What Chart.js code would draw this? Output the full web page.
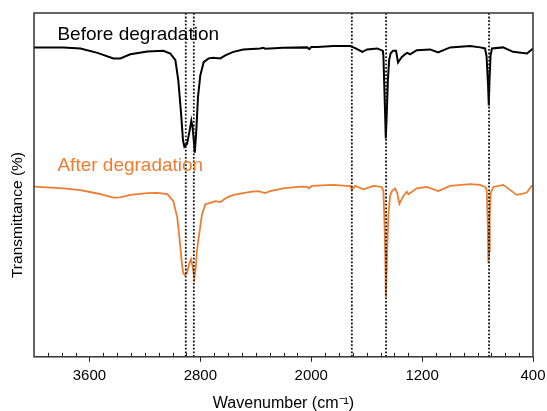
<!DOCTYPE html>
<html lang="en">
<head>
    <meta charset="UTF-8">
    <title>FTIR - before / after degradation</title>
    <script src="https://cdn.jsdelivr.net/npm/chart.js"></script>
    <style>
        body { margin: 0; background: #fff; }
    </style>
</head>
<body>
    <canvas id="ftirChart" width="547" height="411"></canvas>

    <script>
        // wavenumber (cm-1) / transmittance (arbitrary, offset spectra)
        const wnBefore = [4000, 3787, 3665, 3542, 3427, 3377, 3305, 3182, 3067, 3016, 2980, 2959, 2939, 2925, 2915, 2896, 2877, 2865, 2856, 2845, 2840, 2829, 2817, 2800, 2776, 2740, 2706, 2656, 2620, 2562, 2490, 2368, 2346, 2332, 2202, 2029, 2014, 2000, 1957, 1841, 1719, 1683, 1631, 1596, 1524, 1483, 1479, 1474, 1467, 1462, 1455, 1447, 1438, 1427, 1409, 1388, 1374, 1346, 1323, 1308, 1287, 1238, 1142, 1085, 998, 854, 782, 746, 735, 724, 719, 714, 706, 696, 616, 544, 443, 400];
        const tBefore = [90.0, 90.0, 89.7, 88.4, 86.8, 86.8, 88.0, 88.8, 89.0, 88.2, 86.3, 80.4, 70.8, 62.9, 61.1, 61.9, 65.8, 68.7, 66.8, 62.0, 59.4, 65.8, 75.5, 81.9, 85.7, 86.8, 87.0, 86.8, 87.7, 88.7, 89.4, 89.7, 89.9, 89.6, 89.9, 90.0, 89.5, 90.1, 90.1, 90.4, 90.4, 89.8, 88.7, 89.4, 89.7, 89.0, 87.2, 80.4, 70.8, 63.5, 70.8, 80.4, 86.3, 88.3, 89.0, 89.0, 85.6, 87.2, 88.0, 88.4, 88.0, 89.2, 89.4, 88.5, 90.0, 90.4, 90.0, 89.7, 87.4, 78.9, 73.1, 80.4, 87.7, 89.7, 90.0, 88.7, 88.2, 89.7];

        const wnAfter = [4000, 3787, 3665, 3542, 3427, 3377, 3305, 3182, 3110, 3038, 2995, 2966, 2948, 2933, 2923, 2912, 2897, 2879, 2867, 2856, 2843, 2832, 2825, 2812, 2788, 2764, 2728, 2692, 2656, 2608, 2560, 2440, 2382, 2332, 2296, 2202, 2079, 2029, 2018, 1995, 1841, 1743, 1719, 1707, 1683, 1623, 1551, 1491, 1479, 1472, 1465, 1462, 1456, 1450, 1443, 1431, 1418, 1395, 1380, 1364, 1335, 1310, 1299, 1238, 1166, 1083, 998, 854, 782, 746, 734, 727, 722, 717, 712, 705, 686, 614, 518, 446, 410, 400];
        const tAfter = [49.5, 49.0, 48.5, 47.5, 46.3, 46.4, 47.1, 47.6, 47.7, 47.3, 45.3, 40.4, 33.6, 27.2, 24.3, 23.8, 24.3, 27.2, 28.4, 26.3, 22.9, 26.3, 30.7, 34.6, 41.4, 44.4, 44.8, 45.3, 45.0, 46.3, 47.1, 48.0, 48.2, 47.6, 48.2, 49.0, 49.5, 49.4, 49.0, 49.7, 50.0, 49.7, 49.7, 48.5, 49.7, 48.7, 49.7, 49.4, 48.2, 39.5, 27.8, 17.3, 24.9, 33.6, 41.5, 46.8, 48.2, 49.0, 47.7, 44.5, 46.8, 48.0, 47.3, 49.0, 49.4, 48.2, 49.7, 50.2, 50.0, 49.4, 48.7, 39.5, 27.2, 30.7, 40.9, 47.7, 49.4, 50.0, 47.1, 47.7, 49.7, 49.7];

        // marked bands (dotted guides)
        const peakLines = [2905, 2847, 1707, 1460, 717];

        const xTickValues = [3600, 2800, 2000, 1200, 400];
        const seriesNames = ['Before degradation', 'After degradation'];
        const seriesColors = ['#000000', '#ED7D31'];

        const toPoints = (xs, ys) => xs.map((x, i) => ({ x: x, y: ys[i] }));

        const guideSets = peakLines.map(wn => ({
            label: 'guide ' + wn,
            data: [{ x: wn, y: 0 }, { x: wn, y: 100 }],
            borderColor: '#111',
            borderWidth: 1.8,
            borderDash: [1.8, 1.8],
            pointRadius: 0,
            order: 0
        }));

        const fontFamily = '"Liberation Sans", Arial, sans-serif';

        // frame, inward minor ticks, curve labels, y title
        const decorPlugin = {
            id: 'decor',
            afterDraw(chart) {
                const ctx = chart.ctx;
                const area = chart.chartArea;
                const xs = chart.scales.x;
                const ys = chart.scales.y;
                ctx.save();

                ctx.strokeStyle = '#222';
                ctx.lineWidth = 1;
                for (let v = 500; v < 4000; v += 100) {
                    if (xTickValues.includes(v)) continue;
                    const px = Math.round(xs.getPixelForValue(v)) + 0.5;
                    ctx.beginPath();
                    ctx.moveTo(px, area.bottom);
                    ctx.lineTo(px, area.bottom - 4);
                    ctx.stroke();
                }

                ctx.lineWidth = 1.5;
                ctx.strokeStyle = '#333';
                ctx.strokeRect(area.left, area.top, area.right - area.left, area.bottom - area.top);

                ctx.font = '19px ' + fontFamily;
                ctx.textBaseline = 'alphabetic';
                ctx.textAlign = 'left';
                ctx.fillStyle = seriesColors[0];
                ctx.fillText(seriesNames[0], xs.getPixelForValue(3831), ys.getPixelForValue(92.1));
                ctx.fillStyle = seriesColors[1];
                ctx.fillText(seriesNames[1], xs.getPixelForValue(3831), ys.getPixelForValue(54.1));

                ctx.translate(18, 215);
                ctx.rotate(-Math.PI / 2);
                ctx.textAlign = 'center';
                ctx.textBaseline = 'middle';
                ctx.fillStyle = '#000';
                ctx.font = '15.5px ' + fontFamily;
                ctx.fillText('Transmittance (%)', 0, 0);
                ctx.restore();
            }
        };

        new Chart(document.getElementById('ftirChart'), {
            type: 'line',
            data: {
                datasets: [
                    {
                        label: seriesNames[0],
                        data: toPoints(wnBefore, tBefore),
                        borderColor: seriesColors[0],
                        borderWidth: 2,
                        pointRadius: 0,
                        tension: 0,
                        order: 1
                    },
                    {
                        label: seriesNames[1],
                        data: toPoints(wnAfter, tAfter),
                        borderColor: seriesColors[1],
                        borderWidth: 1.8,
                        pointRadius: 0,
                        tension: 0,
                        order: 1
                    },
                    ...guideSets
                ]
            },
            options: {
                responsive: false,
                animation: false,
                layout: {
                    padding: { left: 34, top: 13, right: 14, bottom: -2 }
                },
                plugins: {
                    legend: { display: false },
                    tooltip: { enabled: false }
                },
                scales: {
                    x: {
                        type: 'linear',
                        reverse: true,
                        min: 400,
                        max: 4000,
                        afterBuildTicks: scale => {
                            scale.ticks = xTickValues.map(v => ({ value: v }));
                        },
                        afterFit: scale => {
                            // let layout padding decide the side margins
                            scale.paddingLeft = 0;
                            scale.paddingRight = 0;
                        },
                        border: { display: false },
                        grid: {
                            drawOnChartArea: false,
                            drawTicks: true,
                            tickLength: 5,
                            tickColor: '#222',
                            tickWidth: 1
                        },
                        ticks: {
                            color: '#000',
                            padding: 5,
                            maxRotation: 0,
                            font: { family: fontFamily, size: 15 },
                            callback: value => String(value)
                        },
                        title: {
                            display: true,
                            text: 'Wavenumber (cm\u207B\u00B9)',
                            color: '#000',
                            font: { family: fontFamily, size: 16 },
                            padding: { top: 4, bottom: 0 }
                        }
                    },
                    y: {
                        display: false,
                        min: 0,
                        max: 100
                    }
                }
            },
            plugins: [decorPlugin]
        });
    </script>
</body>
</html>
